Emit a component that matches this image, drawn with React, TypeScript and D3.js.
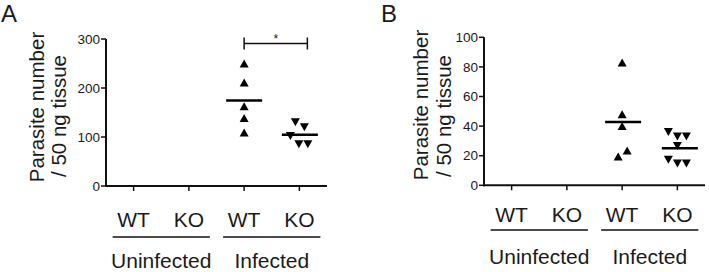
import React from "react";
import * as d3 from "d3";

// ---------- data ----------
const categoryKeys = ["Uninfected WT", "Uninfected KO", "Infected WT", "Infected KO"];
const categoryLabels = ["WT", "KO", "WT", "KO"];
const groupLabels = ["Uninfected", "Infected"];
const yLabelLines = ["Parasite number", "/ 50 ng tissue"];

// Panel A
const yTicksA = [0, 100, 200, 300];
const aInfectedWT = [250, 211, 163, 139, 109];
const aInfectedKO = [130, 120, 102, 85, 85];
const aJitterWT = [0, 0, 0, 0, 0];
const aJitterKO = [-4, 5, -9, -0.5, 8.5];

// Panel B
const yTicksB = [0, 20, 40, 60, 80, 100];
const bInfectedWT = [83, 48, 40, 19.5, 23.5];
const bInfectedKO = [36, 33, 33, 26.5, 17.3, 14.8, 14.8];
const bJitterWT = [0, 0, 0, -4, 5];
const bJitterKO = [-9, 0, 9, 0, -9, 0, 9];

const FONT = "'Liberation Sans', Arial, Helvetica, sans-serif";
const TEXT = "#1a1a1a";

type Series = { key: string; values: number[]; jitter: number[]; shape: "up" | "down"; meanShift: number };

type PanelProps = {
  letter: string;
  letterX: number;
  x0: number;
  x1: number;
  yTop: number;
  yBot: number;
  yMax: number;
  ticks: number[];
  ylabX: [number, number];
  ylabY: [number, number];
  catBaseline: number;
  underlineY: number;
  groupBaseline: number;
  series: Series[];
  bracket?: { from: string; to: string; toShift: number; y: number; label: string };
};

function tri(cx: number, cy: number, up: boolean, w = 9, h = 8) {
  const p = d3.path();
  if (up) {
    p.moveTo(cx, cy - h / 2);
    p.lineTo(cx + w / 2, cy + h / 2);
    p.lineTo(cx - w / 2, cy + h / 2);
  } else {
    p.moveTo(cx - w / 2, cy - h / 2);
    p.lineTo(cx + w / 2, cy - h / 2);
    p.lineTo(cx, cy + h / 2);
  }
  p.closePath();
  return p.toString();
}

function Panel(props: PanelProps) {
  const { x0, x1, yTop, yBot } = props;
  const x = d3.scalePoint<string>().domain(categoryKeys).range([x0, x1]).padding(0.5);
  const y = d3.scaleLinear().domain([0, props.yMax]).range([yBot, yTop]);
  const groupsIdx = [
    [0, 1],
    [2, 3],
  ];
  return (
    <g fontFamily={FONT} fill={TEXT}>
      <text x={props.letterX} y={22} fontSize={24}>
        {props.letter}
      </text>
      {/* y label */}
      {yLabelLines.map((t, i) => (
        <text
          key={t}
          transform={`translate(${props.ylabX[i]},${props.ylabY[i]}) rotate(-90)`}
          textAnchor="middle"
          fontSize={20.5}
        >
          {t}
        </text>
      ))}
      {/* y axis */}
      <line x1={x0} x2={x0} y1={yTop} y2={yBot + 1} stroke="#111" strokeWidth={2} />
      {props.ticks.map((t) => (
        <g key={t}>
          <line x1={x0 - 5} x2={x0} y1={y(t)} y2={y(t)} stroke="#111" strokeWidth={1.5} />
          <text x={x0 - 6} y={y(t)} dy="0.35em" textAnchor="end" fontSize={13.5}>
            {t}
          </text>
        </g>
      ))}
      {/* x axis */}
      <line x1={x0 - 1} x2={x1} y1={yBot} y2={yBot} stroke="#111" strokeWidth={2} />
      {categoryKeys.map((k) => (
        <line key={k} x1={x(k)!} x2={x(k)!} y1={yBot} y2={yBot + 5} stroke="#111" strokeWidth={1.5} />
      ))}
      {categoryKeys.map((k, i) => (
        <text key={k} x={x(k)!} y={props.catBaseline} textAnchor="middle" fontSize={21}>
          {categoryLabels[i]}
        </text>
      ))}
      {groupsIdx.map((g, gi) => {
        const a = x(categoryKeys[g[0]])! - 21;
        const b = x(categoryKeys[g[1]])! + 21;
        return (
          <g key={gi}>
            <line x1={a} x2={b} y1={props.underlineY} y2={props.underlineY} stroke="#111" strokeWidth={1.5} />
            <text x={(a + b) / 2} y={props.groupBaseline} textAnchor="middle" fontSize={21}>
              {groupLabels[gi]}
            </text>
          </g>
        );
      })}
      {/* points */}
      {props.series.map((s) => (
        <g key={s.key}>
          {s.values.map((v, i) => (
            <path key={i} d={tri(x(s.key)! + s.jitter[i], y(v), s.shape === "up")} fill="#000" />
          ))}
          <line
            x1={x(s.key)! + s.meanShift - 18}
            x2={x(s.key)! + s.meanShift + 18}
            y1={y(d3.mean(s.values)!)}
            y2={y(d3.mean(s.values)!)}
            stroke="#000"
            strokeWidth={2.5}
          />
        </g>
      ))}
      {props.bracket && (() => {
        const bx0 = x(props.bracket!.from)!;
        const bx1 = x(props.bracket!.to)! + props.bracket!.toShift;
        const by = props.bracket!.y;
        return (
          <g>
            <line x1={bx0} x2={bx1} y1={by} y2={by} stroke="#111" strokeWidth={1.5} />
            <line x1={bx0} x2={bx0} y1={by - 6} y2={by + 6} stroke="#111" strokeWidth={1.5} />
            <line x1={bx1} x2={bx1} y1={by - 6} y2={by + 6} stroke="#111" strokeWidth={1.5} />
            <text x={(bx0 + bx1) / 2} y={by - 1} textAnchor="middle" fontSize={12}>
              {props.bracket!.label}
            </text>
          </g>
        );
      })()}
    </g>
  );
}

export default function App() {
  return (
    <svg
      width={709}
      height={272}
      style={{ position: "absolute", left: 0, top: 0, background: "#fff" }}
    >
      <rect width={709} height={272} fill="#fff" />
      <Panel
        letter="A"
        letterX={1}
        x0={106}
        x1={327}
        yTop={39}
        yBot={186}
        yMax={300}
        ticks={yTicksA}
        ylabX={[44, 66]}
        ylabY={[107, 116]}
        catBaseline={227}
        underlineY={237}
        groupBaseline={268}
        series={[
          { key: "Infected WT", values: aInfectedWT, jitter: aJitterWT, shape: "up", meanShift: 0 },
          { key: "Infected KO", values: aInfectedKO, jitter: aJitterKO, shape: "down", meanShift: 0.5 },
        ]}
        bracket={{ from: "Infected WT", to: "Infected KO", toShift: 8, y: 43.5, label: "*" }}
      />
      <Panel
        letter="B"
        letterX={381}
        x0={484}
        x1={705}
        yTop={37.3}
        yBot={185.3}
        yMax={100}
        ticks={yTicksB}
        ylabX={[428, 450.5]}
        ylabY={[105, 116]}
        catBaseline={222}
        underlineY={230}
        groupBaseline={264}
        series={[
          { key: "Infected WT", values: bInfectedWT, jitter: bJitterWT, shape: "up", meanShift: 1 },
          { key: "Infected KO", values: bInfectedKO, jitter: bJitterKO, shape: "down", meanShift: 2.5 },
        ]}
      />
    </svg>
  );
}
